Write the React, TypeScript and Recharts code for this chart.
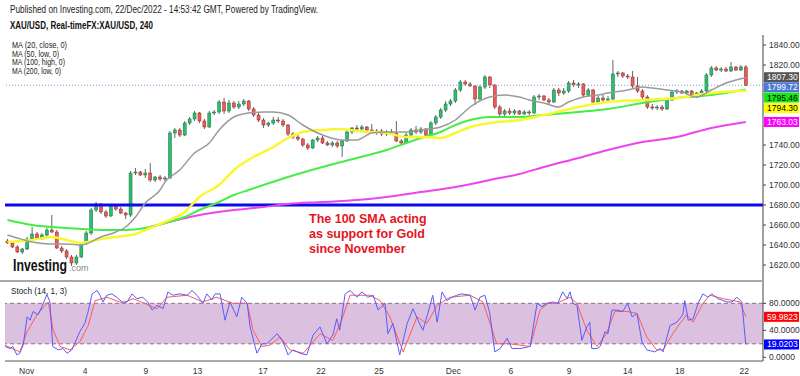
import React from "react";
import {
  ComposedChart,
  LineChart,
  Bar,
  Line,
  XAxis,
  YAxis,
  ReferenceLine,
  ReferenceArea,
} from "recharts";

// 240 min bars, [open, high, low, close]
const candles: number[][] = [
  [1644, 1646, 1641, 1642], [1642, 1643, 1637, 1638], [1638, 1640, 1632, 1633], [1633, 1637, 1631, 1636],
  [1636, 1648, 1635, 1646], [1646, 1658, 1644, 1651], [1651, 1653, 1645, 1647], [1647, 1652, 1645, 1650],
  [1650, 1657, 1648, 1655], [1655, 1670, 1652, 1653], [1653, 1655, 1636, 1637], [1637, 1639, 1632, 1634],
  [1634, 1636, 1626, 1628], [1628, 1630, 1619, 1622], [1622, 1630, 1620, 1628], [1628, 1643, 1627, 1642],
  [1642, 1654, 1640, 1652], [1652, 1677, 1650, 1675], [1675, 1683, 1673, 1681], [1681, 1682, 1671, 1673],
  [1673, 1675, 1667, 1669], [1669, 1680, 1668, 1679], [1679, 1681, 1674, 1676], [1676, 1678, 1671, 1672],
  [1672, 1673, 1666, 1670], [1670, 1714, 1668, 1712], [1712, 1717, 1710, 1713], [1713, 1714, 1709, 1710],
  [1710, 1716, 1707, 1712], [1712, 1722, 1703, 1705], [1705, 1709, 1703, 1708], [1708, 1710, 1704, 1706],
  [1706, 1709, 1704, 1707], [1707, 1754, 1706, 1752], [1752, 1757, 1747, 1755], [1755, 1757, 1748, 1750],
  [1750, 1764, 1749, 1762], [1762, 1768, 1760, 1766], [1766, 1774, 1764, 1772], [1772, 1773, 1762, 1764],
  [1764, 1766, 1756, 1758], [1758, 1774, 1757, 1772], [1772, 1775, 1770, 1773], [1773, 1785, 1771, 1783],
  [1783, 1787, 1771, 1774], [1774, 1785, 1772, 1782], [1782, 1784, 1776, 1778], [1778, 1784, 1776, 1781],
  [1781, 1786, 1779, 1784], [1784, 1785, 1774, 1776], [1776, 1778, 1768, 1770], [1770, 1772, 1763, 1765],
  [1765, 1767, 1757, 1760], [1760, 1763, 1758, 1762], [1762, 1768, 1760, 1765], [1765, 1768, 1762, 1764],
  [1764, 1766, 1758, 1760], [1760, 1761, 1749, 1751], [1751, 1753, 1746, 1748], [1748, 1750, 1744, 1746],
  [1746, 1747, 1738, 1740], [1740, 1742, 1735, 1737], [1737, 1746, 1736, 1745], [1745, 1749, 1743, 1747],
  [1747, 1749, 1741, 1742], [1742, 1744, 1739, 1740], [1740, 1744, 1738, 1742], [1742, 1744, 1737, 1739],
  [1739, 1745, 1728, 1744], [1744, 1755, 1743, 1753], [1753, 1758, 1751, 1757], [1757, 1760, 1754, 1756],
  [1756, 1760, 1754, 1758], [1758, 1759, 1753, 1755], [1755, 1761, 1752, 1753], [1753, 1756, 1750, 1754],
  [1754, 1756, 1749, 1751], [1751, 1755, 1749, 1753], [1753, 1756, 1750, 1752], [1752, 1764, 1743, 1744],
  [1744, 1746, 1741, 1742], [1742, 1752, 1741, 1750], [1750, 1757, 1749, 1755], [1755, 1759, 1751, 1753],
  [1753, 1758, 1751, 1756], [1756, 1757, 1748, 1750], [1750, 1764, 1749, 1762], [1762, 1770, 1760, 1768],
  [1768, 1777, 1766, 1775], [1775, 1784, 1773, 1781], [1781, 1786, 1779, 1784], [1784, 1797, 1782, 1795],
  [1795, 1805, 1793, 1803], [1803, 1805, 1799, 1801], [1801, 1803, 1798, 1799], [1799, 1800, 1780, 1786],
  [1786, 1800, 1784, 1798], [1798, 1810, 1796, 1808], [1808, 1809, 1797, 1800], [1800, 1801, 1776, 1778],
  [1778, 1780, 1768, 1771], [1771, 1776, 1769, 1774], [1774, 1777, 1770, 1772], [1772, 1776, 1770, 1774],
  [1774, 1775, 1770, 1771], [1771, 1775, 1770, 1773], [1773, 1775, 1770, 1772], [1772, 1790, 1771, 1788],
  [1788, 1791, 1785, 1789], [1789, 1790, 1784, 1785], [1785, 1787, 1781, 1783], [1783, 1797, 1782, 1795],
  [1795, 1797, 1789, 1792], [1792, 1797, 1790, 1794], [1794, 1804, 1792, 1802], [1802, 1805, 1798, 1800],
  [1800, 1803, 1797, 1801], [1801, 1802, 1788, 1790], [1790, 1797, 1788, 1795], [1795, 1796, 1781, 1783],
  [1783, 1789, 1781, 1787], [1787, 1790, 1783, 1785], [1785, 1789, 1784, 1786], [1786, 1825, 1785, 1811],
  [1811, 1814, 1808, 1812], [1812, 1813, 1807, 1809], [1809, 1811, 1806, 1808], [1808, 1814, 1797, 1799],
  [1799, 1808, 1792, 1794], [1794, 1796, 1786, 1788], [1788, 1790, 1776, 1778], [1778, 1781, 1775, 1777],
  [1777, 1780, 1775, 1778], [1778, 1780, 1774, 1776], [1776, 1786, 1775, 1785], [1785, 1795, 1784, 1793],
  [1793, 1796, 1791, 1794], [1794, 1795, 1791, 1792], [1792, 1795, 1790, 1794], [1794, 1795, 1787, 1788],
  [1788, 1793, 1787, 1792], [1792, 1796, 1790, 1794], [1794, 1812, 1793, 1810], [1810, 1819, 1808, 1817],
  [1817, 1819, 1814, 1815], [1815, 1818, 1813, 1816], [1816, 1818, 1813, 1814], [1814, 1823, 1813, 1818],
  [1818, 1819, 1814, 1815], [1815, 1820, 1814, 1818], [1818, 1820, 1799, 1799.72],
];

// moving averages, [bar, value]
const ma20: number[][] = [
  [0, 1650], [2, 1647], [5, 1643], [9, 1641], [12, 1641], [15, 1640], [19, 1648], [22, 1653], [24, 1658],
  [26, 1668], [28, 1682], [31, 1695], [32, 1703], [35, 1715], [38, 1732], [41, 1742], [43, 1755], [46, 1768],
  [49, 1772], [52, 1773], [54, 1773], [57, 1770], [60, 1760], [64, 1750], [68, 1745], [71, 1745], [74, 1752],
  [77, 1753], [81, 1753], [84, 1755], [88, 1758], [91, 1765], [94, 1778], [98, 1788], [101, 1790], [104, 1788],
  [106, 1785], [109, 1782], [112, 1778], [114, 1783], [117, 1788], [120, 1790], [122, 1792], [126, 1795],
  [129, 1798], [131, 1797], [134, 1795], [137, 1793], [140, 1788], [143, 1795], [146, 1802], [150, 1807.3],
];
const ma50: number[][] = [
  [0, 1643], [5, 1645], [9, 1648], [12, 1645], [15, 1642], [19, 1646], [22, 1648], [26, 1651], [29, 1657],
  [32, 1663], [36, 1673], [39, 1688], [43, 1700], [46, 1715], [50, 1728], [52, 1733], [54, 1738], [57, 1747],
  [60, 1753], [64, 1755], [67, 1756], [71, 1754], [74, 1753], [77, 1752], [81, 1748], [84, 1748], [88, 1747],
  [91, 1752], [94, 1758], [98, 1762], [104, 1765], [109, 1770], [116, 1778], [122, 1783], [129, 1785],
  [136, 1787], [143, 1792], [150, 1794.3],
];
const ma100: number[][] = [
  [0, 1665], [5, 1660], [12, 1657], [19, 1655], [24, 1655], [29, 1658], [32, 1662], [36, 1668], [39, 1675],
  [43, 1683], [46, 1690], [49, 1695], [52, 1700], [57, 1708], [64, 1718], [71, 1727], [77, 1735], [81, 1742],
  [84, 1747], [88, 1753], [91, 1760], [94, 1765], [98, 1768], [104, 1768], [109, 1770], [116, 1773],
  [122, 1776], [129, 1782], [136, 1787], [143, 1790], [150, 1795.46],
];
const ma200: number[][] = [
  [29, 1658], [32, 1662], [39, 1670], [46, 1675], [50, 1677], [52, 1678], [57, 1681], [64, 1683], [71, 1685],
  [77, 1688], [84, 1693], [91, 1698], [98, 1705], [104, 1711], [109, 1718], [116, 1727], [122, 1735],
  [129, 1743], [136, 1748], [143, 1757], [150, 1763.03],
];

// stochastic %K and %D, [bar position, value]
const stochK: number[][] = [
  [-0.5, 16], [0.5, 13], [1.1, 16], [1.9, 3.5], [2.5, 6], [3.2, 18], [4, 60], [4.6, 55], [5.2, 68], [6.2, 63],
  [7, 75], [8, 93], [8.6, 83], [9.2, 16], [10.3, 11], [11.3, 13], [12.1, 6], [13.1, 11], [14.1, 28], [14.7, 38],
  [15.7, 50], [16.4, 68], [17.2, 94], [18.2, 99], [18.8, 92], [19.4, 82], [20.2, 92], [21.2, 94], [22.2, 89],
  [23.3, 82], [24.3, 82], [25.3, 94], [26.3, 87], [27.5, 89], [28.5, 82], [29.4, 70], [30.4, 77], [31.6, 72],
  [32.6, 97], [33.6, 92], [35, 94], [36.5, 92], [37.5, 99], [38.5, 92], [39.7, 80], [40.5, 94], [41.5, 85],
  [42.2, 94], [43.2, 94], [44.2, 55], [45.2, 82], [46.6, 60], [47.6, 89], [48.7, 80], [49.3, 45], [50.3, 16],
  [50.7, 6], [51.7, 20], [52.7, 20], [54.8, 35], [56, 23], [57, 3.5], [58, 11], [59.4, 6], [60.8, 3.5],
  [62.1, 33], [63.5, 45], [64.9, 20], [66.1, 33], [66.9, 57], [67.5, 40], [68.6, 94], [69.6, 99], [71, 89],
  [72, 97], [73.2, 89], [74.3, 92], [75.3, 70], [76.7, 80], [77.3, 35], [78.3, 50], [79.7, 3.5], [81.2, 50],
  [82.4, 72], [83.4, 55], [84.4, 40], [85.4, 65], [86.4, 92], [87.3, 52], [88.3, 97], [89.3, 84], [90.3, 89],
  [91.3, 92], [92.3, 94], [94, 92], [95, 70], [96, 89], [97, 92], [98, 65], [99, 8], [100.1, 13], [101.5, 28],
  [102.5, 13], [104.1, 13], [106.2, 16], [107.6, 80], [108.6, 75], [109.6, 80], [110.8, 82], [111.8, 80],
  [112.8, 97], [113.7, 87], [114.3, 97], [114.9, 80], [115.7, 77], [116.7, 25], [117.7, 45], [118.3, 52],
  [118.7, 13], [119.8, 13], [120.4, 16], [121.4, 38], [122, 35], [122.8, 70], [123.8, 70], [125, 68], [126, 80],
  [126.9, 60], [127.9, 65], [128.9, 23], [129.9, 11], [131.5, 8], [132.6, 13], [133.2, 8], [134.6, 47],
  [136, 52], [137.2, 63], [137.6, 84], [138.3, 55], [139.3, 57], [140.3, 80], [141.3, 94], [142.3, 89],
  [143.1, 94], [144.3, 87], [146.2, 82], [147.2, 82], [148.2, 89], [149.2, 82], [150, 19.0203],
];
const stochD: number[][] = [
  [-0.5, 18], [2.5, 8], [4, 38], [6, 63], [8.3, 82], [9.3, 40], [10.7, 16], [12.7, 11], [14.7, 23], [16.4, 47],
  [17.8, 84], [20.2, 89], [23.5, 80], [25.5, 87], [30.4, 72], [32.4, 89], [36.5, 92], [39.7, 82], [42.5, 89],
  [45.8, 80], [48.7, 80], [49.9, 40], [51.7, 16], [53.3, 18], [55.4, 30], [57.4, 11], [60.1, 6], [63.5, 35],
  [66.1, 25], [67.9, 55], [69.6, 92], [73.6, 92], [75.7, 84], [77.7, 60], [80.4, 8], [83.2, 60], [85.2, 50],
  [87.3, 77], [89.9, 89], [94, 92], [96.6, 82], [99.4, 20], [102.1, 20], [106.2, 16], [108.2, 70], [109.8, 80],
  [111.6, 80], [114.3, 89], [115.7, 80], [117.7, 40], [119.8, 16], [121.7, 35], [123.4, 68], [125.9, 68],
  [127.9, 65], [129.9, 30], [131.9, 11], [133.2, 11], [135.2, 35], [136.6, 50], [138, 63], [139.3, 52],
  [141.3, 80], [142.7, 92], [145.4, 87], [148.8, 82], [150, 59.9823],
];

const dateTicks = [3.9, 15.8, 28.1, 38.6, 51.9, 63.7, 75.5, 90.6, 102.3, 114.1, 126, 136.6, 149.7];
const dateLabels = ["Nov", "4", "9", "13", "17", "22", "25", "Dec", "6", "9", "14", "18", "22"];
// 1760, 1780 and 1800 sit under the price tags and are not shown
const priceTicks = [1620, 1640, 1660, 1680, 1700, 1720, 1740, 1820, 1840];
const stochTicks = [0, 40, 80];

const SLOTS = candles.length + 3;
const rows: any[] = Array.from({ length: SLOTS }, (_, i) => {
  const c = candles[i];
  return c ? { i, o: c[0], h: c[1], l: c[2], c: c[3], range: [c[2], c[1]] } : { i };
});
const putSeries = (key: string, pts: number[][]) => pts.forEach(([i, v]) => (rows[i][key] = v));
putSeries("ma20", ma20);
putSeries("ma50", ma50);
putSeries("ma100", ma100);
putSeries("ma200", ma200);

const kData = stochK.map(([t, v]) => ({ t, v }));
const dData = stochD.map(([t, v]) => ({ t, v }));

const FONT = '"Liberation Sans", Arial, sans-serif';

const Candle = (props: any) => {
  const { x, y, width, height, payload } = props;
  if (!payload || payload.o == null) return null;
  const { o, h, l, c } = payload;
  const top = Math.min(y, y + height);
  const full = Math.abs(height);
  const ppu = full / (h - l);
  const at = (v: number) => top + (h - v) * ppu;
  const up = c >= o;
  const bTop = at(Math.max(o, c));
  const bBot = at(Math.min(o, c));
  const cx = x + width / 2;
  return (
    <g>
      <line x1={cx} x2={cx} y1={top} y2={top + full} stroke="#666" strokeWidth={1} />
      <rect
        x={x}
        y={bTop}
        width={width}
        height={Math.max(1, bBot - bTop)}
        fill={up ? "#2dbd70" : "#ec5b57"}
        stroke={up ? "#1d6b40" : "#8a2a27"}
        strokeWidth={0.5}
      />
    </g>
  );
};

const Tag = ({ viewBox, text, bg, fg, shift = 0 }: any) => {
  if (!viewBox) return null;
  const left = viewBox.x + viewBox.width + 1;
  const cy = viewBox.y + shift;
  return (
    <g>
      <rect x={left} y={cy - 5} width={35} height={10} fill={bg} />
      <text x={left + 3} y={cy + 3} fontSize={8.5} fill={fg} fontFamily={FONT}>
        {text}
      </text>
    </g>
  );
};

const priceTags = [
  { v: 1807.3, text: "1807.30", bg: "#555555", fg: "#ffffff", shift: -0.5 },
  { v: 1799.72, text: "1799.72", bg: "#4a78d8", fg: "#ffffff", shift: 2 },
  { v: 1795.46, text: "1795.46", bg: "#19e619", fg: "#000000", shift: 8 },
  { v: 1794.3, text: "1794.30", bg: "#ffff00", fg: "#000000", shift: 17.5 },
  { v: 1763.03, text: "1763.03", bg: "#ff00ff", fg: "#ffffff", shift: 0 },
];
const stochTags = [
  { v: 59.9823, text: "59.9823", bg: "#ff0000", fg: "#ffffff" },
  { v: 19.0203, text: "19.0203", bg: "#0000ff", fg: "#ffffff" },
];

const tickStyle = { fontSize: 8.5, fill: "#333", fontFamily: FONT };

export default function App() {
  return (
    <div
      style={{
        position: "absolute",
        left: 0,
        top: 0,
        width: 800,
        height: 376,
        background: "#fff",
        fontFamily: FONT,
        overflow: "hidden",
      }}
    >
      <div style={{ position: "absolute", left: 0, top: 35 }}>
        <ComposedChart width={800} height={246} data={rows} margin={{ top: 0, right: 0, bottom: 0, left: 5 }}>
          <XAxis dataKey="i" hide />
          <YAxis
            orientation="right"
            width={37}
            domain={[1604, 1850]}
            ticks={priceTicks}
            allowDataOverflow
            tickFormatter={(v: number) => v.toFixed(2)}
            tick={tickStyle}
            tickSize={3}
            tickMargin={3}
            axisLine={{ stroke: "#444" }}
            tickLine={{ stroke: "#444" }}
          />
          <ReferenceLine y={1799.72} stroke="#7f9be0" strokeDasharray="1 2" />
          <ReferenceLine y={1680} stroke="#0a0af0" strokeWidth={3} />
          <Bar dataKey="range" barSize={3} shape={<Candle />} isAnimationActive={false} />
          <Line dataKey="ma200" type="monotone" stroke="#ee44ee" strokeWidth={2} dot={false} connectNulls isAnimationActive={false} />
          <Line dataKey="ma100" type="monotone" stroke="#44ee44" strokeWidth={2} dot={false} connectNulls isAnimationActive={false} />
          <Line dataKey="ma50" type="monotone" stroke="#f8f830" strokeWidth={2.5} dot={false} connectNulls isAnimationActive={false} />
          <Line dataKey="ma20" type="monotone" stroke="#9a9a9a" strokeWidth={1.5} dot={false} connectNulls isAnimationActive={false} />
          {priceTags.map((t) => (
            <ReferenceLine
              key={t.text}
              y={t.v}
              stroke="none"
              label={(p: any) => <Tag viewBox={p.viewBox} text={t.text} bg={t.bg} fg={t.fg} shift={t.shift} />}
            />
          ))}
        </ComposedChart>
      </div>

      <div style={{ position: "absolute", left: 0, top: 281 }}>
        <LineChart width={800} height={95} margin={{ top: 0, right: 0, bottom: 0, left: 5 }}>
          <XAxis
            type="number"
            dataKey="t"
            domain={[-0.5, SLOTS - 0.5]}
            allowDataOverflow
            ticks={dateTicks}
            interval={0}
            tickFormatter={(v: number) => dateLabels[dateTicks.indexOf(v)] ?? ""}
            height={15}
            tick={tickStyle}
            tickLine={false}
            tickMargin={1}
            axisLine={{ stroke: "#555" }}
          />
          <YAxis
            orientation="right"
            width={37}
            domain={[-5.5, 113.1]}
            ticks={stochTicks}
            allowDataOverflow
            tickFormatter={(v: number) => v.toFixed(4)}
            tick={tickStyle}
            tickSize={3}
            tickMargin={3}
            axisLine={{ stroke: "#444" }}
            tickLine={{ stroke: "#444" }}
          />
          <ReferenceArea y1={20} y2={80} fill="#dcc0df" fillOpacity={1} stroke="none" />
          <ReferenceLine y={80} stroke="#8c708c" strokeDasharray="4 3" />
          <ReferenceLine y={20} stroke="#8c708c" strokeDasharray="4 3" />
          <Line data={dData} dataKey="v" stroke="#ff5a5a" strokeWidth={1} dot={false} isAnimationActive={false} />
          <Line data={kData} dataKey="v" stroke="#5a5aff" strokeWidth={1} dot={false} isAnimationActive={false} />
          {stochTags.map((t) => (
            <ReferenceLine
              key={t.text}
              y={t.v}
              stroke="none"
              label={(p: any) => <Tag viewBox={p.viewBox} text={t.text} bg={t.bg} fg={t.fg} />}
            />
          ))}
        </LineChart>
      </div>

      <svg width={800} height={376} style={{ position: "absolute", left: 0, top: 0, pointerEvents: "none" }}>
        <text x={10} y={12.5} fontSize={10} fill="#222" textLength={308} lengthAdjust="spacingAndGlyphs">
          Published on Investing.com, 22/Dec/2022 - 14:53:42 GMT, Powered by TradingView.
        </text>
        <text x={10} y={28.5} fontSize={10} fontWeight="bold" fill="#111" textLength={143} lengthAdjust="spacingAndGlyphs">
          XAU/USD, Real-timeFX:XAU/USD, 240
        </text>
        <text x={12} y={48} fontSize={9} fill="#222" textLength={55} lengthAdjust="spacingAndGlyphs">MA (20, close, 0)</text>
        <text x={12} y={56.5} fontSize={9} fill="#222" textLength={47} lengthAdjust="spacingAndGlyphs">MA (50, low, 0)</text>
        <text x={12} y={65} fontSize={9} fill="#222" textLength={53} lengthAdjust="spacingAndGlyphs">MA (100, high, 0)</text>
        <text x={12} y={73.5} fontSize={9} fill="#222" textLength={49} lengthAdjust="spacingAndGlyphs">MA (200, low, 0)</text>
        <text x={309} y={222.5} fontSize={12.5} fontWeight="bold" fill="#e5141e">The 100 SMA acting</text>
        <text x={309} y={237.5} fontSize={12.5} fontWeight="bold" fill="#e5141e">as support for Gold</text>
        <text x={309} y={252.5} fontSize={12.5} fontWeight="bold" fill="#e5141e">since November</text>
        <text transform="translate(13 271) scale(0.77 1)" fontSize={16} fontWeight="bold" fill="#111">Investing</text>
        <text x={69} y={271} fontSize={9} fill="#888">.com</text>
        <line x1={0} x2={763} y1={281} y2={281} stroke="#a8a8a8" strokeWidth={2} />
        <text x={11} y={294} fontSize={9} fill="#222" textLength={56} lengthAdjust="spacingAndGlyphs">Stoch (14, 1, 3)</text>
      </svg>
    </div>
  );
}
